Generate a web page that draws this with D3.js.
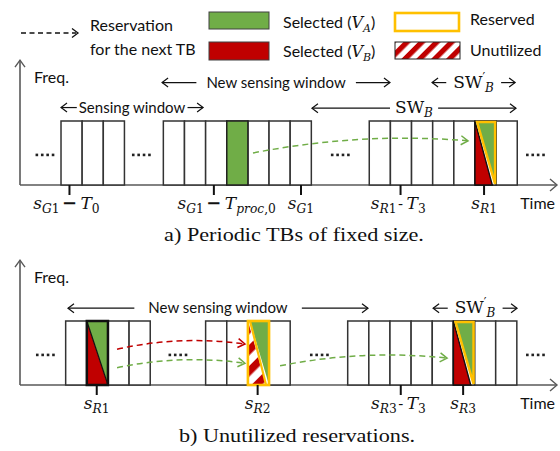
<!DOCTYPE html>
<html>
<head>
<meta charset="utf-8">
<script src="https://cdn.jsdelivr.net/npm/d3@7"></script>
<style>
  body { margin: 0; background: #fff; }
  text { font-family: Lato, "Open Sans", sans-serif; fill: #111; }
  .math { font-family: "DejaVu Serif", "Liberation Serif", serif; }
  .cap { font-family: "Liberation Serif", "Times New Roman", serif; }
</style>
</head>
<body>
<svg id="fig" width="560" height="451"></svg>
<script>
// ---- Time line in TB-slot units ----
const timeDomain = [0, 25.4];

// a) periodic TBs of fixed size
const groupStartsA = [1.94, 6.78, 16.52];
const groupSizesA = [3, 7, 7];
const markedA = [
  { group: 1, slot: 3, kind: "selA" },
  { group: 2, slot: 5, kind: "selBRes" }
];
const dotsA = [1.18, 5.74, 15.15, 24.38];
const ticksA = [2.34, 9.17, 13.29, 18.0, 21.95];
const tickLabelsA = [
  { left: ["s", "G1"], op: "\u2212", right: ["T", "0"] },
  { left: ["s", "G1"], op: "\u2212", right: ["T", "proc,0"] },
  { left: ["s", "G1"] },
  { left: ["s", "R1"], op: "-", right: ["T", "3"] },
  { left: ["s", "R1"] }
];
// window spans: from/to in slots, level in cell heights above the axis
const spansA = [
  { from: 1.94, to: 8.66, level: 1.21, gap: 2, label: "Sensing window" },
  { from: 6.72, to: 17.5, level: 1.6, gap: 10, label: "New sensing window" },
  { from: 13.81, to: 23.46, level: 1.2, gap: 5, label: "SWB" },
  { from: 19.49, to: 23.42, level: 1.6, gap: 7, label: "SWpB" }
];
const arrowsA = [
  { from: 11.02, to: 21.19, h0: 0.5, h1: 0.69, color: "green" }
];

// b) unutilized reservations
const groupStartsB = [2.16, 8.78, 15.5];
const groupSizesB = [4, 4, 8];
const markedB = [
  { group: 0, slot: 1, kind: "selAB" },
  { group: 1, slot: 2, kind: "unused" },
  { group: 2, slot: 5, kind: "selBRes" }
];
const dotsB = [1.2, 7.47, 14.16, 24.38];
const ticksB = [3.63, 11.24, 18.01, 20.96];
const tickLabelsB = [
  { left: ["s", "R1"] },
  { left: ["s", "R2"] },
  { left: ["s", "R3"], op: "-", right: ["T", "3"] },
  { left: ["s", "R3"] }
];
const spansB = [
  { from: 2.27, to: 16.46, level: 1.2, gap: 14, label: "New sensing window" },
  { from: 19.54, to: 23.51, level: 1.2, gap: 7, label: "SWpB" }
];
const arrowsB = [
  { from: 4.59, to: 10.64, h0: 0.56, h1: 0.64, color: "red" },
  { from: 4.59, to: 10.64, h0: 0.27, h1: 0.34, color: "green" },
  { from: 12.3, to: 20.2, h0: 0.3, h1: 0.42, color: "green" }
];

const captions = ["a) Periodic TBs of fixed size.", "b) Unutilized reservations."];

// ---- styling ----
const C = { green: "#70AD47", red: "#C00000", orange: "#FFC000", cell: "#333", axis: "#595959" };
const MATH = 17;

const svg = d3.select("#fig");
const x = d3.scaleLinear().domain(timeDomain).range([20, 557]);

// hatch patterns for the unutilized resource
const defs = svg.append("defs");
function hatch(id, size) {
  const p = defs.append("pattern").attr("id", id).attr("patternUnits", "userSpaceOnUse")
    .attr("width", size).attr("height", size).attr("patternTransform", "rotate(45)");
  p.append("rect").attr("width", size).attr("height", size).attr("fill", "#fff");
  p.append("rect").attr("width", size * 0.5).attr("height", size).attr("fill", C.red);
}
hatch("hatchLegend", 10.5);
hatch("hatchCell", 15);

function chevron(g, tx, ty, dir, color, size = 6, half = 4.5, sw = 1.3) {
  const [dx, dy] = dir;
  const px = -dy, py = dx;
  g.append("path")
    .attr("d", `M${tx - dx * size + px * half},${ty - dy * size + py * half}L${tx},${ty}L${tx - dx * size - px * half},${ty - dy * size - py * half}`)
    .attr("fill", "none").attr("stroke", color).attr("stroke-width", sw);
}

function mathLabel(t, base, sub, size = MATH) {
  t.append("tspan").attr("class", "math").attr("font-style", "italic").attr("font-size", size).text(base);
  let first = true;
  for (const ch of sub) {
    const s = t.append("tspan").attr("class", "math").attr("font-size", size * 0.72)
      .attr("font-style", /[A-Za-z]/.test(ch) ? "italic" : "normal").text(ch);
    if (first) { s.attr("dy", 4); first = false; }
  }
  return t;
}

function swLabel(t, prime) {
  t.append("tspan").attr("class", "math").attr("font-size", 17).text("SW");
  if (prime) {
    t.append("tspan").attr("class", "math").attr("font-size", 12).attr("dy", -6).text("\u2032");
    t.append("tspan").attr("class", "math").attr("font-style", "italic").attr("font-size", 12).attr("dy", 10).text("B");
  } else {
    t.append("tspan").attr("class", "math").attr("font-style", "italic").attr("font-size", 12).attr("dy", 4).text("B");
  }
  return t;
}

function drawMarked(g, x0, x1, yTop, yBot, kind) {
  const w = x1 - x0;
  if (kind === "selA") {
    g.append("rect").attr("x", x0).attr("y", yTop).attr("width", w).attr("height", yBot - yTop)
      .attr("fill", C.green).attr("stroke", "#222").attr("stroke-width", 1.5);
  } else if (kind === "selAB") {
    g.append("path").attr("d", `M${x0},${yTop}L${x0},${yBot}L${x1},${yBot}Z`).attr("fill", C.red);
    g.append("path").attr("d", `M${x0},${yTop}L${x1},${yTop}L${x1},${yBot}Z`).attr("fill", C.green);
    g.append("line").attr("x1", x0).attr("y1", yTop).attr("x2", x1).attr("y2", yBot).attr("stroke", "#111").attr("stroke-width", 1.2);
    g.append("rect").attr("x", x0).attr("y", yTop).attr("width", w).attr("height", yBot - yTop)
      .attr("fill", "none").attr("stroke", "#111").attr("stroke-width", 2.5);
  } else if (kind === "selBRes") {
    const xb = x0 + 0.82 * w;
    g.append("rect").attr("x", x0).attr("y", yTop).attr("width", w).attr("height", yBot - yTop)
      .attr("fill", "#fff").attr("stroke", C.cell).attr("stroke-width", 1.5);
    g.append("path").attr("d", `M${x0},${yTop}L${x0},${yBot}L${xb},${yBot}Z`).attr("fill", C.red)
      .attr("stroke", "#111").attr("stroke-width", 1.4);
    g.append("path").attr("d", `M${x0 + 0.1 * w},${yTop + 1}L${x1 - 1},${yTop + 1}L${x1 - 1},${yBot - 1}Z`)
      .attr("fill", C.green).attr("stroke", C.orange).attr("stroke-width", 2.5).attr("stroke-linejoin", "miter");
  } else if (kind === "unused") {
    const xb = x0 + 0.86 * w;
    g.append("rect").attr("x", x0).attr("y", yTop).attr("width", w).attr("height", yBot - yTop).attr("fill", "#fff");
    g.append("path").attr("d", `M${x0},${yTop}L${x0},${yBot}L${xb},${yBot}Z`).attr("fill", "url(#hatchCell)");
    g.append("path").attr("d", `M${x0 + 0.1 * w},${yTop}L${x1},${yTop}L${x1},${yBot}Z`).attr("fill", C.green);
    g.append("line").attr("x1", x0 + 0.1 * w).attr("y1", yTop).attr("x2", xb).attr("y2", yBot)
      .attr("stroke", C.orange).attr("stroke-width", 2.2);
    g.append("rect").attr("x", x0).attr("y", yTop).attr("width", w).attr("height", yBot - yTop)
      .attr("fill", "none").attr("stroke", C.orange).attr("stroke-width", 2.6);
  }
}

function drawRow(cfg) {
  const g = svg.append("g");
  const y = d3.scaleLinear().domain([0, 1]).range([cfg.base, cfg.base - 64]);
  const yAxisTop = 1.95;

  // axes
  g.append("line").attr("x1", x(0)).attr("y1", y(0)).attr("x2", x(timeDomain[1])).attr("y2", y(0))
    .attr("stroke", C.axis).attr("stroke-width", 1.6);
  chevron(g, x(timeDomain[1]), y(0), [1, 0], C.axis, 7, 6, 1.4);
  g.append("line").attr("x1", x(0)).attr("y1", y(0)).attr("x2", x(0)).attr("y2", y(yAxisTop))
    .attr("stroke", C.axis).attr("stroke-width", 1.6);
  chevron(g, x(0), y(yAxisTop), [0, -1], C.axis, 7, 5, 1.4);
  g.append("text").attr("x", x(0) + 14).attr("y", y(yAxisTop) + 23).attr("font-size", 16).text("Freq.");
  g.append("text").attr("x", x(timeDomain[1]) - 2).attr("y", y(0) + 24).attr("text-anchor", "end")
    .attr("font-size", 16).text("Time");

  // TB cells
  cfg.starts.forEach((s, gi) => {
    d3.range(cfg.sizes[gi]).forEach(i => {
      g.append("rect").attr("x", x(s + i)).attr("y", y(1))
        .attr("width", x(s + i + 1) - x(s + i)).attr("height", y(0) - y(1))
        .attr("fill", "#fff").attr("stroke", C.cell).attr("stroke-width", 1.5);
    });
  });
  cfg.marked.forEach(m => {
    const s = cfg.starts[m.group] + m.slot;
    drawMarked(g, x(s), x(s + 1), y(1), y(0), m.kind);
  });

  // "...." gaps
  cfg.dots.forEach(d => {
    [-1.5, -0.5, 0.5, 1.5].forEach(k => {
      g.append("rect").attr("x", x(d) + k * 5.4 - 1.3).attr("y", y(0.47) - 1.3)
        .attr("width", 2.6).attr("height", 2.6).attr("fill", "#222");
    });
  });

  // ticks and their labels
  cfg.ticks.forEach((t, i) => {
    const tx = x(t);
    g.append("line").attr("x1", tx).attr("y1", y(0)).attr("x2", tx).attr("y2", y(0) + 10)
      .attr("stroke", "#111").attr("stroke-width", 2);
    const lab = cfg.labels[i];
    const ly = y(0) + 24;
    if (!lab.op) {
      mathLabel(g.append("text").attr("x", tx).attr("y", ly).attr("text-anchor", "middle"), lab.left[0], lab.left[1]);
    } else {
      const long = lab.op === "\u2212";
      const opHalf = long ? 6 : 3;
      g.append("text").attr("x", tx).attr("y", ly).attr("text-anchor", "middle")
        .attr("font-size", long ? 18 : 15).attr("font-weight", long ? "bold" : "normal")
        .attr("class", long ? "math" : null).text(lab.op);
      mathLabel(g.append("text").attr("x", tx - opHalf - (long ? 4 : 1)).attr("y", ly).attr("text-anchor", "end"), lab.left[0], lab.left[1]);
      mathLabel(g.append("text").attr("x", tx + opHalf + (long ? 5 : 3)).attr("y", ly), lab.right[0], lab.right[1]);
    }
  });

  // window spans
  cfg.spans.forEach(sp => {
    const x1 = x(sp.from), x2 = x(sp.to), yy = y(sp.level);
    const t = g.append("text").attr("x", (x1 + x2) / 2).attr("y", yy + 5).attr("text-anchor", "middle").attr("font-size", 15);
    if (sp.label === "SWB") swLabel(t, false);
    else if (sp.label === "SWpB") swLabel(t, true);
    else t.text(sp.label);
    const bb = t.node().getBBox();
    g.append("line").attr("x1", x1).attr("y1", yy).attr("x2", bb.x - sp.gap).attr("y2", yy).attr("stroke", "#111").attr("stroke-width", 1.2);
    g.append("line").attr("x1", bb.x + bb.width + sp.gap).attr("y1", yy).attr("x2", x2).attr("y2", yy).attr("stroke", "#111").attr("stroke-width", 1.2);
    chevron(g, x1, yy, [-1, 0], "#111", 6, 4.5, 1.2);
    chevron(g, x2, yy, [1, 0], "#111", 6, 4.5, 1.2);
  });

  // reservation arrows for the next TB
  cfg.arrows.forEach(a => {
    const col = a.color === "red" ? C.red : C.green;
    const x0 = x(a.from), x1 = x(a.to), y0 = y(a.h0), y1 = y(a.h1);
    const cx = (x0 + x1) / 2, cy = y(Math.max(a.h0, a.h1) + 0.14);
    g.append("path").attr("d", `M${x0},${y0}Q${cx},${cy} ${x1},${y1}`)
      .attr("fill", "none").attr("stroke", col).attr("stroke-width", 1.5).attr("stroke-dasharray", "6,4");
    const dx = x1 - cx, dy = y1 - cy, n = Math.hypot(dx, dy);
    chevron(g, x1, y1, [dx / n, dy / n], col, 7, 4.5, 1.5);
  });
}

drawRow({ base: 185, starts: groupStartsA, sizes: groupSizesA, marked: markedA, dots: dotsA,
  ticks: ticksA, labels: tickLabelsA, spans: spansA, arrows: arrowsA });
drawRow({ base: 385, starts: groupStartsB, sizes: groupSizesB, marked: markedB, dots: dotsB,
  ticks: ticksB, labels: tickLabelsB, spans: spansB, arrows: arrowsB });

// captions, set slightly wide
[[294, 241], [297, 442]].forEach(([cx, cy], i) => {
  svg.append("text").attr("class", "cap").attr("transform", `translate(${cx},${cy}) scale(1.17,1)`)
    .attr("text-anchor", "middle").attr("font-size", 19).text(captions[i]);
});

// ---- legend ----
const lg = svg.append("g");
lg.append("line").attr("x1", 21).attr("y1", 33).attr("x2", 76).attr("y2", 33)
  .attr("stroke", "#111").attr("stroke-width", 1.3).attr("stroke-dasharray", "5,3.5");
chevron(lg, 78, 33, [1, 0], "#111", 6, 4.5, 1.3);
lg.append("text").attr("x", 90).attr("y", 31).attr("font-size", 16).text("Reservation");
lg.append("text").attr("x", 90).attr("y", 55).attr("font-size", 16).text("for the next TB");

lg.append("rect").attr("x", 209).attr("y", 12).attr("width", 60).attr("height", 17)
  .attr("fill", C.green).attr("stroke", "#404040").attr("stroke-width", 1);
lg.append("rect").attr("x", 209).attr("y", 42).attr("width", 60).attr("height", 18)
  .attr("fill", C.red).attr("stroke", "#404040").attr("stroke-width", 1);

function selectedLabel(yy, who) {
  const t = lg.append("text").attr("x", 283).attr("y", yy).attr("font-size", 16);
  t.append("tspan").text("Selected (");
  t.append("tspan").attr("class", "math").attr("font-style", "italic").attr("font-size", 16).text("V");
  t.append("tspan").attr("class", "math").attr("font-style", "italic").attr("font-size", 11).attr("dy", 4).text(who);
  t.append("tspan").attr("dy", -4).text(")");
}
selectedLabel(28, "A");
selectedLabel(57, "B");

lg.append("rect").attr("x", 395).attr("y", 13).attr("width", 64).attr("height", 18)
  .attr("fill", "#fff").attr("stroke", C.orange).attr("stroke-width", 2.6);
lg.append("rect").attr("x", 395).attr("y", 42).attr("width", 65).attr("height", 17)
  .attr("fill", "url(#hatchLegend)").attr("stroke", "#222").attr("stroke-width", 1);
lg.append("text").attr("x", 470).attr("y", 25).attr("font-size", 16).text("Reserved");
lg.append("text").attr("x", 470).attr("y", 56).attr("font-size", 16).text("Unutilized");
</script>
</body>
</html>
